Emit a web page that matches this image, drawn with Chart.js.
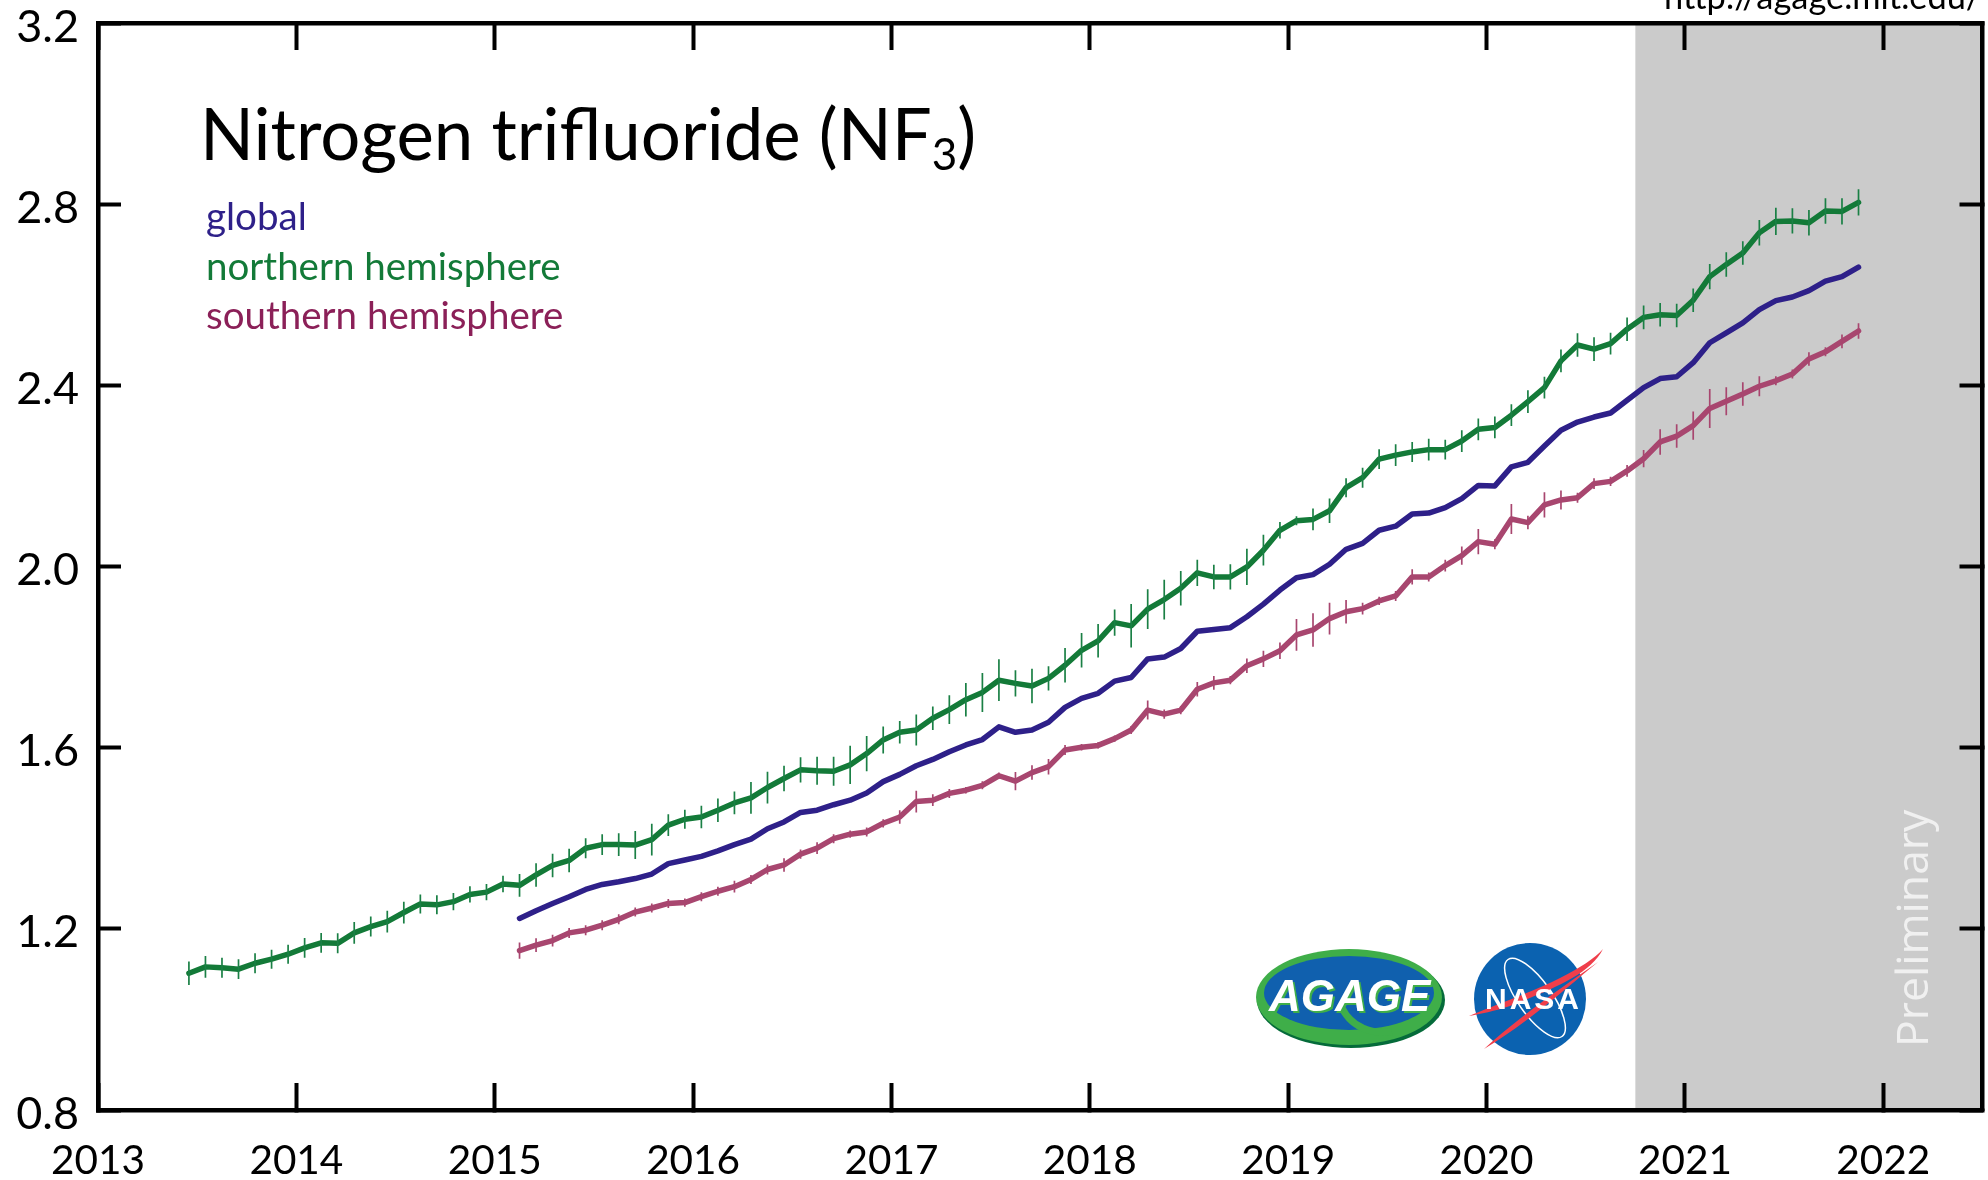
<!DOCTYPE html>
<html>
<head>
<meta charset="utf-8">
<title>Nitrogen trifluoride (NF3)</title>
<script src="https://cdn.jsdelivr.net/npm/chart.js@4"></script>
<style>
  html, body { margin: 0; padding: 0; background: #fff; }
  #wrap { position: relative; width: 1988px; height: 1180px; overflow: hidden; }
  #chart { position: absolute; left: 0; top: 0; }
  #overlay { position: absolute; left: 0; top: 0; font-family: Lato, sans-serif; }
</style>
</head>
<body>
<div id="wrap">
  <canvas id="chart" width="1988" height="1180"></canvas>
  <svg id="overlay" width="1988" height="1180" viewBox="0 0 1988 1180">
    <text x="1664" y="9" font-size="34.4" fill="#000">http://agage.mit.edu/</text>
    <text x="200" y="160" font-size="70.8" fill="#000">Nitrogen trifluoride (NF<tspan font-size="44" dy="10">3</tspan><tspan dy="-10">)</tspan></text>
    <text x="206" y="230" font-size="38.5" fill="#2e2089">global</text>
    <text x="206" y="280" font-size="38.5" fill="#137a38">northern hemisphere</text>
    <text x="206" y="329" font-size="38.5" fill="#8b2058">southern hemisphere</text>
    <text transform="translate(1928 1047) rotate(-90)" font-family="'Open Sans', sans-serif" font-size="44.5" fill="#f0f0f0">Preliminary</text>

    <!-- AGAGE logo -->
    <ellipse cx="1351" cy="1000" rx="94" ry="48" fill="#056b3a"/>
    <ellipse cx="1349" cy="997" rx="93" ry="48" fill="#3fae49"/>
    <ellipse cx="1349" cy="993" rx="85" ry="37" fill="#1060ae"/>
    <path d="M1342 1008 C1352 1028 1372 1034 1392 1032" fill="none" stroke="#3fae49" stroke-width="7"/>
    <text x="1269" y="1011" font-family="'Liberation Sans', sans-serif" font-weight="700" font-style="italic" font-size="44" fill="#3fae49" transform="translate(2 2)">AGAGE</text>
    <text x="1269" y="1011" font-family="'Liberation Sans', sans-serif" font-weight="700" font-style="italic" font-size="44" fill="#fff">AGAGE</text>

    <!-- NASA logo -->
    <circle cx="1530" cy="999" r="56" fill="#0b62b0"/>
    <ellipse cx="1535" cy="998" rx="17" ry="47" transform="rotate(-35 1535 998)" fill="none" stroke="#fff" stroke-width="1.5"/>
    <path d="M1603 949 C1590 975 1550 990 1510 1006 C1495 1011 1480 1014 1469 1016 C1490 1007 1530 993 1560 978 C1580 968 1595 958 1603 949 Z" fill="#ef3e4a"/>
    <path d="M1598 962 C1570 985 1525 1025 1484 1049 C1515 1020 1565 985 1598 962 Z" fill="#ef3e4a"/>
    <text x="1485" y="1009" font-family="'Liberation Sans', sans-serif" font-weight="700" font-size="30" letter-spacing="3" fill="#fff">NASA</text>
  </svg>
</div>

<script>
/* ═══════════════════════════════════════════════
   NF3 mole fractions, monthly means (ppt)
═══════════════════════════════════════════════ */
const xTicks = [2013, 2014, 2015, 2016, 2017, 2018, 2019, 2020, 2021, 2022];
const yTicks = [0.8, 1.2, 1.6, 2.0, 2.4, 2.8, 3.2];
const previewStart = 2020.75;

const northValues = [
  1.102, 1.116, 1.114, 1.111, 1.124, 1.133, 1.144, 1.158, 1.169, 1.168,
  1.191, 1.205, 1.216, 1.236, 1.255, 1.253, 1.260, 1.276, 1.281, 1.299,
  1.296, 1.319, 1.340, 1.351, 1.378, 1.386, 1.386, 1.385, 1.397, 1.429,
  1.442, 1.447, 1.462, 1.478, 1.489, 1.512, 1.532, 1.551, 1.549, 1.548,
  1.562, 1.587, 1.617, 1.634, 1.639, 1.665, 1.684, 1.706, 1.722, 1.749,
  1.742, 1.736, 1.753, 1.782, 1.815, 1.836, 1.876, 1.869, 1.906, 1.927,
  1.952, 1.986, 1.977, 1.977, 1.999, 2.036, 2.080, 2.101, 2.104, 2.123,
  2.174, 2.196, 2.237, 2.246, 2.253, 2.258, 2.258, 2.277, 2.303, 2.307,
  2.334, 2.364, 2.395, 2.454, 2.489, 2.480, 2.492, 2.524, 2.550, 2.556,
  2.554, 2.588, 2.640, 2.667, 2.692, 2.737, 2.762, 2.763, 2.759, 2.785,
  2.784, 2.804
];
const northErrors = [
  .026, .024, .022, .022, .022, .021, .021, .022, .022, .022,
  .024, .022, .024, .024, .021, .021, .019, .018, .018, .018,
  .025, .026, .026, .026, .022, .023, .025, .031, .035, .024,
  .021, .025, .026, .025, .035, .035, .028, .028, .031, .032,
  .042, .039, .030, .025, .034, .026, .032, .037, .043, .046,
  .029, .038, .027, .038, .038, .037, .029, .048, .044, .044,
  .038, .029, .027, .028, .040, .034, .018, .010, .024, .027,
  .021, .022, .022, .024, .022, .024, .022, .024, .024, .024,
  .024, .025, .024, .025, .026, .026, .024, .026, .026, .026,
  .026, .026, .028, .027, .026, .028, .030, .028, .028, .028,
  .029, .029
];

const globalValues = [
  1.223, 1.240, 1.256, 1.271, 1.287, 1.298, 1.304, 1.311, 1.321, 1.344,
  1.352, 1.360, 1.372, 1.386, 1.398, 1.421, 1.436, 1.457, 1.462, 1.474,
  1.484, 1.500, 1.525, 1.541, 1.560, 1.574, 1.591, 1.606, 1.618, 1.646,
  1.634, 1.639, 1.656, 1.689, 1.709, 1.720, 1.747, 1.755, 1.796, 1.800,
  1.819, 1.857, 1.861, 1.865, 1.889, 1.917, 1.948, 1.975, 1.982, 2.005,
  2.038, 2.051, 2.080, 2.089, 2.116, 2.118, 2.130, 2.150, 2.179, 2.178,
  2.220, 2.230, 2.266, 2.301, 2.319, 2.330, 2.339, 2.367, 2.395, 2.415,
  2.419, 2.450, 2.494, 2.516, 2.538, 2.567, 2.587, 2.595, 2.609, 2.630,
  2.640, 2.661
];

const southValues = [
  1.152, 1.164, 1.174, 1.191, 1.197, 1.208, 1.221, 1.237, 1.246, 1.256,
  1.258, 1.271, 1.283, 1.293, 1.309, 1.331, 1.341, 1.365, 1.378, 1.399,
  1.409, 1.414, 1.433, 1.447, 1.481, 1.484, 1.499, 1.506, 1.517, 1.538,
  1.526, 1.545, 1.558, 1.595, 1.601, 1.605, 1.620, 1.639, 1.683, 1.674,
  1.683, 1.729, 1.743, 1.749, 1.781, 1.796, 1.814, 1.849, 1.860, 1.885,
  1.900, 1.907, 1.924, 1.935, 1.977, 1.977, 2.002, 2.024, 2.055, 2.049,
  2.105, 2.097, 2.136, 2.147, 2.152, 2.183, 2.188, 2.211, 2.238, 2.275,
  2.288, 2.311, 2.349, 2.365, 2.381, 2.398, 2.410, 2.425, 2.458, 2.474,
  2.497, 2.520
];
const southErrors = [
  .018, .015, .013, .011, .011, .011, .011, .010, .010, .010,
  .009, .010, .010, .013, .010, .011, .015, .010, .013, .010,
  .008, .010, .009, .015, .024, .013, .010, .007, .009, .007,
  .020, .016, .017, .011, .007, .007, .007, .009, .021, .010,
  .009, .016, .015, .009, .016, .018, .018, .035, .037, .035,
  .026, .013, .009, .011, .017, .010, .013, .020, .028, .011,
  .033, .015, .028, .021, .011, .012, .010, .013, .019, .028,
  .026, .031, .043, .031, .026, .022, .010, .010, .015, .010,
  .015, .017
];

// months are drawn at mid-month; north starts Jun 2013, the others Feb 2015
function monthX(firstYear, firstMonth, i) {
  return firstYear + (firstMonth + i + 0.5) / 12;
}
const northPoints = northValues.map((v, i) => ({ x: monthX(2013, 5, i), y: v }));
const globalPoints = globalValues.map((v, i) => ({ x: monthX(2015, 1, i), y: v }));
const southPoints = southValues.map((v, i) => ({ x: monthX(2015, 1, i), y: v }));

// one broken line per series: low, high, gap, low, high, gap...
function errorPoints(points, errors) {
  const out = [];
  points.forEach((p, i) => {
    out.push({ x: p.x, y: p.y - errors[i] });
    out.push({ x: p.x, y: p.y + errors[i] });
    out.push({ x: p.x, y: null });
  });
  return out;
}

function seriesLine(label, data, color) {
  return {
    label: label,
    data: data,
    borderColor: color,
    borderWidth: 5.5,
    borderCapStyle: 'round',
    borderJoinStyle: 'round',
    tension: 0,
    pointRadius: 0,
    fill: false
  };
}

function errorLine(label, data, color) {
  return {
    label: label,
    data: data,
    borderColor: color,
    borderWidth: 1.7,
    borderCapStyle: 'butt',
    tension: 0,
    pointRadius: 0,
    spanGaps: false,
    fill: false
  };
}

const previewBand = {
  id: 'previewBand',
  beforeDraw(chart) {
    const { ctx, chartArea, scales } = chart;
    const x0 = scales.x.getPixelForValue(previewStart);
    ctx.save();
    ctx.fillStyle = '#fff';
    ctx.fillRect(0, 0, chart.width, chart.height);
    ctx.fillStyle = '#cbcbcb';
    ctx.fillRect(x0, chartArea.top, chartArea.right - x0, chartArea.bottom - chartArea.top);
    ctx.restore();
  }
};

const axisBase = {
  border: { display: true, color: '#000', width: 4.5 },
  afterFit(s) {
    s.paddingLeft = s.paddingRight = s.paddingTop = s.paddingBottom = 0;
  }
};

function xAxis(position, extent, showLabels) {
  return Object.assign({}, axisBase, {
    type: 'linear',
    position: position,
    min: 2013,
    max: 2022.5,
    offset: false,
    afterBuildTicks(s) { s.ticks = xTicks.map(v => ({ value: v })); },
    afterFit(s) { axisBase.afterFit(s); s.height = extent; },
    grid: { display: true, drawOnChartArea: false, drawTicks: true, tickLength: -27, tickWidth: 4, tickColor: '#000', offset: false },
    ticks: {
      display: showLabels,
      autoSkip: false,
      maxRotation: 0,
      padding: 54,
      color: '#000',
      font: { family: 'Lato', size: 40.5 },
      callback: v => String(v)
    }
  });
}

function yAxis(position, extent, showLabels) {
  return Object.assign({}, axisBase, {
    type: 'linear',
    position: position,
    min: 0.8,
    max: 3.2,
    afterBuildTicks(s) { s.ticks = yTicks.map(v => ({ value: v })); },
    afterFit(s) { axisBase.afterFit(s); s.width = extent; },
    grid: { display: true, drawOnChartArea: false, drawTicks: true, tickLength: -23, tickWidth: 4, tickColor: '#000' },
    ticks: {
      display: showLabels,
      autoSkip: false,
      padding: 42,
      labelOffset: 4,
      color: '#000',
      font: { family: 'Lato', size: 45 },
      callback: v => v.toFixed(1)
    }
  });
}

new Chart(document.getElementById('chart'), {
  type: 'line',
  data: {
    datasets: [
      errorLine('northern hemisphere error', errorPoints(northPoints, northErrors), '#1a8045'),
      errorLine('southern hemisphere error', errorPoints(southPoints, southErrors), '#a8466f'),
      seriesLine('northern hemisphere', northPoints, '#137a38'),
      seriesLine('global', globalPoints, '#2e2089'),
      seriesLine('southern hemisphere', southPoints, '#a8466f')
    ]
  },
  options: {
    responsive: false,
    animation: false,
    layout: { padding: { left: 0, right: 5.5, top: 23, bottom: 0 } },
    plugins: { legend: { display: false }, tooltip: { enabled: false } },
    scales: {
      x: xAxis('bottom', 70, true),
      xTop: xAxis('top', 0, false),
      y: yAxis('left', 98, true),
      yRight: yAxis('right', 0, false)
    }
  },
  plugins: [previewBand]
});
</script>
</body>
</html>
